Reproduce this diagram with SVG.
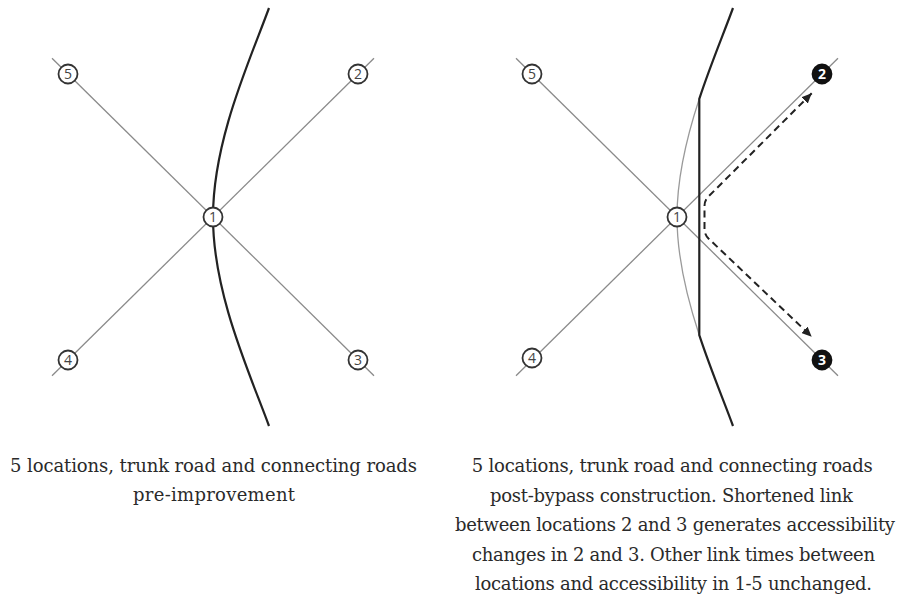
<svg xmlns="http://www.w3.org/2000/svg" width="901" height="605" viewBox="0 0 901 605">
<style>
.road{fill:none;stroke:#8a8a8a;stroke-width:1.3}
.trunk{fill:none;stroke:#222;stroke-width:2.2}
.old{fill:none;stroke:#9a9a9a;stroke-width:1.3}
.dash{fill:none;stroke:#222;stroke-width:2;stroke-dasharray:7 4.5}
.node circle{fill:#fff;stroke:#333;stroke-width:1.8}
.node text{font-family:"Open Sans","Liberation Sans",sans-serif;font-size:14px;fill:#444;text-anchor:middle}
.dark circle{fill:#111;stroke:#111}
.dark text{fill:#fff;font-weight:bold}
.cap{font-family:"DejaVu Serif","Liberation Serif",serif;font-size:18px;fill:#2a2a2a;text-anchor:middle}
</style>
<defs>
<marker id="ah" markerUnits="userSpaceOnUse" markerWidth="11" markerHeight="9" refX="10" refY="4.5" orient="auto-start-reverse">
<path d="M0,0 L10,4.5 L0,9 z" fill="#222"/>
</marker>
</defs>
<rect width="901" height="605" fill="#fff"/>
<g id="connectors">
<line class="road" x1="52" y1="58.2" x2="374" y2="375.8"/>
<line class="road" x1="374" y1="58.2" x2="52" y2="375.8"/>
<path class="trunk" d="M269,8 C250,60 213,140 213,217 C213,294 250,374 269,426"/>
<line class="road" x1="516" y1="58.2" x2="838" y2="375.8"/>
<line class="road" x1="838" y1="58.2" x2="516" y2="375.8"/>
<path class="old" d="M699.3,98.8 C687,136.1 677,177 677,217 C677,257 687,297.9 699.3,335.2"/>
<path class="trunk" d="M733,8 C723.9,33 710.6,64.4 699.3,98.8 L699.3,335.2 C710.6,369.6 723.9,401 733,426"/>
<path class="dash" marker-start="url(#ah)" marker-end="url(#ah)" d="M811.7,93.3 L708.5,196.5 Q704.5,200.5 704.5,206 L704.5,229 Q704.5,234.5 708.5,238.5 L811.7,336.7"/>
</g>
<g id="L1" class="node"><circle cx="213" cy="217" r="9.5"/><text x="213" y="222">1</text></g>
<g id="L2" class="node"><circle cx="358" cy="74" r="9.5"/><text x="358" y="79">2</text></g>
<g id="L3" class="node"><circle cx="358" cy="360" r="9.5"/><text x="358" y="365">3</text></g>
<g id="L4" class="node"><circle cx="68" cy="360" r="9.5"/><text x="68" y="365">4</text></g>
<g id="L5" class="node"><circle cx="68" cy="74" r="9.5"/><text x="68" y="79">5</text></g>
<g id="R1" class="node"><circle cx="677" cy="217" r="9.5"/><text x="677" y="222">1</text></g>
<g id="R2" class="node dark"><circle cx="822" cy="74" r="9.5"/><text x="822" y="79">2</text></g>
<g id="R3" class="node dark"><circle cx="822" cy="360" r="9.5"/><text x="822" y="365">3</text></g>
<g id="R4" class="node"><circle cx="532" cy="358" r="9.5"/><text x="532" y="363">4</text></g>
<g id="R5" class="node"><circle cx="532" cy="74" r="9.5"/><text x="532" y="79">5</text></g>
<g id="caption-left">
<text class="cap" x="213.5" y="472" textLength="407">5 locations, trunk road and connecting roads</text>
<text class="cap" x="214" y="501" textLength="162">pre-improvement</text>
</g>
<g id="caption-right">
<text class="cap" x="672.3" y="472" textLength="401">5 locations, trunk road and connecting roads</text>
<text class="cap" x="671.5" y="501.5" textLength="363">post-bypass construction. Shortened link</text>
<text class="cap" x="675" y="531" textLength="440">between locations 2 and 3 generates accessibility</text>
<text class="cap" x="673.5" y="560.5" textLength="403">changes in 2 and 3. Other link times between</text>
<text class="cap" x="673.5" y="590" textLength="397">locations and accessibility in 1-5 unchanged.</text>
</g>
</svg>
